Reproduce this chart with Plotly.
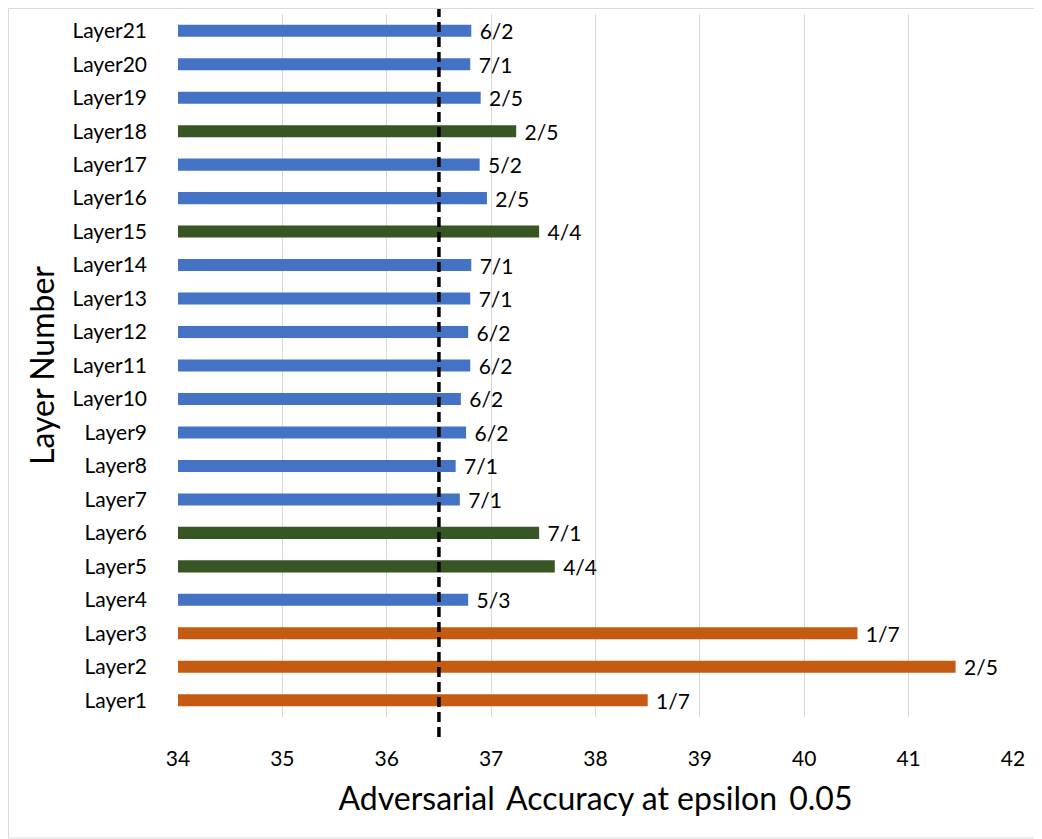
import plotly.graph_objects as go

layers = [f"Layer{i}" for i in range(1, 22)]
accuracy = [38.50, 41.45, 40.51, 36.78, 37.61, 37.46, 36.70, 36.66, 36.76, 36.71,
            36.80, 36.78, 36.80, 36.81, 37.46, 36.96, 36.89, 37.24, 36.90, 36.80, 36.81]
labels = ["1/7", "2/5", "1/7", "5/3", "4/4", "7/1", "7/1", "7/1", "6/2", "6/2",
          "6/2", "6/2", "7/1", "7/1", "4/4", "2/5", "5/2", "2/5", "2/5", "7/1", "6/2"]
groups = ["early", "early", "early", "mid", "top", "top", "mid", "mid", "mid", "mid",
          "mid", "mid", "mid", "mid", "top", "mid", "mid", "top", "mid", "mid", "mid"]
baseline = 36.5
x_ticks = [34, 35, 36, 37, 38, 39, 40, 41, 42]

group_colors = {"early": "#C55A11", "mid": "#4472C4", "top": "#375623"}
FONT = "Lato, 'Open Sans', sans-serif"

fig = go.Figure()
fig.add_trace(go.Bar(
    x=[a - x_ticks[0] for a in accuracy],
    base=x_ticks[0],
    y=layers,
    orientation="h",
    marker=dict(color=[group_colors[g] for g in groups], line=dict(width=0)),
    text=labels,
    texttemplate=" %{text}",
    textposition="outside",
    constraintext="none",
    cliponaxis=False,
    textfont=dict(family=FONT, size=21, color="#000000"),
    hoverinfo="skip",
))

# page has an 8px body margin, so the figure is shifted by 8px
W, H = 1034, 831
L, R, T, B = 170, 29, 6, 122
pw, ph = W - L - R, H - T - B

fig.add_shape(type="line", xref="x", yref="paper",
              x0=baseline, x1=baseline, y0=-20 / ph, y1=1 + 9 / ph,
              line=dict(color="#000000", width=3.5, dash="10px,5px"))
fig.add_shape(type="rect", xref="paper", yref="paper",
              x0=-(L - 0.5) / pw, x1=1 + (R - 1) / pw,
              y0=-(B - 1) / ph, y1=1 + (T - 0.5) / ph,
              line=dict(color="#D9D9D9", width=1), fillcolor="rgba(0,0,0,0)")

fig.update_layout(
    width=W, height=H,
    margin=dict(l=L, r=R, t=T, b=B, pad=0),
    paper_bgcolor="#FFFFFF", plot_bgcolor="#FFFFFF",
    showlegend=False,
    bargap=0.64,
    font=dict(family=FONT, color="#000000"),
    xaxis=dict(
        range=[x_ticks[0], x_ticks[-1]],
        tickvals=x_ticks,
        showgrid=True, gridcolor="#D9D9D9", gridwidth=1,
        zeroline=False, showline=False,
        ticks="", ticklabelstandoff=27,
        tickfont=dict(family=FONT, size=21, color="#000000"),
        title=dict(text="Adversarial\u2009 Accuracy at epsilon\u2009 0.05",
                   font=dict(family=FONT, size=32, color="#000000"), standoff=18),
    ),
    yaxis=dict(
        categoryorder="array", categoryarray=layers,
        range=[-0.5, len(layers) - 0.5],
        showgrid=False, zeroline=False, showline=False,
        ticks="", ticklabelstandoff=30,
        tickfont=dict(family=FONT, size=21, color="#000000"),
        title=dict(text="Layer Number",
                   font=dict(family=FONT, size=32, color="#000000"), standoff=8),
    ),
)

fig.write_html("out.html")
